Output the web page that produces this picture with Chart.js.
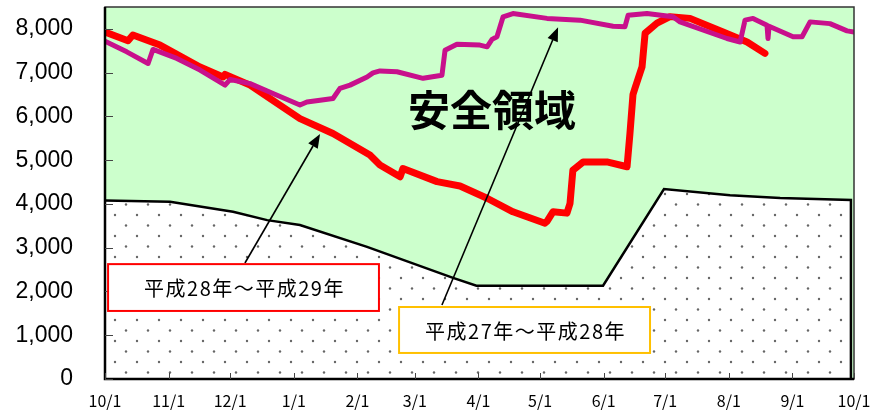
<!DOCTYPE html>
<html>
<head>
<meta charset="utf-8">
<script src="https://cdn.jsdelivr.net/npm/chart.js@4/dist/chart.umd.min.js"></script>
<style>
  html, body { margin: 0; padding: 0; background: #fff; }
</style>
</head>
<body>
<canvas id="chart" width="878" height="410"></canvas>
<script>
// x = days since 10/1
const monthDays = [0, 31, 61, 92, 123, 151, 182, 212, 243, 273, 304, 335, 365];
const monthLabels = ['10/1', '11/1', '12/1', '1/1', '2/1', '3/1', '4/1', '5/1', '6/1', '7/1', '8/1', '9/1', '10/1'];
const yTicks = [0, 1000, 2000, 3000, 4000, 5000, 6000, 7000, 8000];

// 平成28年～平成29年 (red)
const curDays = [0, 11.2, 13.6, 26.8, 46.3, 57.5, 58.5, 70.7, 95, 111.1, 129.1, 134, 143.8, 145.2, 161.8, 173, 186.2, 198.8, 214.4, 215.4, 218.3, 225.1, 226.6, 228, 233, 244.6, 254.4, 255.8, 257.3, 258.3, 261.7, 263.2, 269, 275.3, 285.1, 301.2, 312.9, 321.6];
const curValues = [7930, 7730, 7860, 7630, 7130, 6900, 6960, 6715, 5950, 5610, 5120, 4890, 4620, 4810, 4510, 4410, 4130, 3820, 3560, 3600, 3820, 3790, 4010, 4770, 4960, 4960, 4850, 5600, 6500, 6650, 7130, 7900, 8130, 8280, 8240, 7930, 7700, 7440];

// 平成27年～平成28年 (magenta)
const prevDays = [0, 10.6, 21, 23.4, 35, 46.3, 58.5, 61, 70.7, 81.9, 95, 98.4, 104.8, 111.1, 114.5, 119.4, 127.7, 130.6, 134, 142.3, 155, 164.2, 165.7, 171.5, 182.7, 186.2, 188.6, 191, 194, 198.8, 215.4, 231.5, 247.6, 253.4, 254.9, 264.1, 276.8, 280.2, 303.1, 309.5, 311.9, 315.8, 322.6, 323.1, 323.6, 335.3, 339.7, 343.6, 353.3, 361.6, 365];
const prevValues = [7720, 7475, 7210, 7530, 7325, 7060, 6715, 6845, 6750, 6525, 6260, 6330, 6370, 6410, 6640, 6715, 6900, 6995, 7040, 7020, 6870, 6940, 7510, 7650, 7630, 7590, 7760, 7820, 8275, 8350, 8240, 8200, 8060, 8050, 8310, 8350, 8275, 8160, 7780, 7700, 8200, 8240, 8085, 7780, 8060, 7820, 7820, 8160, 8120, 7955, 7930];

// lower limit curve (dotted region)
const limitDays = [0, 31.7, 62.4, 79, 95, 127.7, 169.6, 181, 242.7, 272.4, 304.6, 329, 363.5, 363.5];
const limitValues = [4080, 4050, 3820, 3630, 3520, 3020, 2310, 2130, 2130, 4340, 4200, 4135, 4090, 0];

const toPoints = (xs, ys) => xs.map((x, i) => ({ x: x, y: ys[i] }));

function dotPattern() {
  const c = document.createElement('canvas');
  c.width = 22; c.height = 21;
  const g = c.getContext('2d');
  g.fillStyle = '#fff';
  g.fillRect(0, 0, 22, 21);
  g.fillStyle = '#666';
  g.beginPath(); g.arc(5, 5, 1.2, 0, Math.PI * 2); g.fill();
  g.beginPath(); g.arc(16, 15.5, 1.2, 0, Math.PI * 2); g.fill();
  return g.createPattern(c, 'repeat');
}

function arrow(ctx, x1, y1, x2, y2) {
  const a = Math.atan2(y2 - y1, x2 - x1);
  const len = 14, half = 5.5;
  const bx = x2 - len * Math.cos(a), by = y2 - len * Math.sin(a);
  ctx.strokeStyle = '#000';
  ctx.lineWidth = 1.6;
  ctx.beginPath(); ctx.moveTo(x1, y1); ctx.lineTo(bx, by); ctx.stroke();
  ctx.fillStyle = '#000';
  ctx.beginPath();
  ctx.moveTo(x2, y2);
  ctx.lineTo(bx + half * Math.sin(a), by - half * Math.cos(a));
  ctx.lineTo(bx - half * Math.sin(a), by + half * Math.cos(a));
  ctx.closePath(); ctx.fill();
}

function labelBox(ctx, xs, ys, d0, d1, v0, v1, color, text) {
  const l = xs.getPixelForValue(d0), r = xs.getPixelForValue(d1);
  const t = ys.getPixelForValue(v0), b = ys.getPixelForValue(v1);
  ctx.fillStyle = '#fff';
  ctx.fillRect(l, t, r - l, b - t);
  ctx.strokeStyle = color;
  ctx.lineWidth = 2;
  ctx.strokeRect(l, t, r - l, b - t);
  ctx.fillStyle = '#000';
  ctx.font = '20px "Noto Sans CJK JP"';
  ctx.letterSpacing = '1.5px';
  ctx.textAlign = 'center';
  ctx.textBaseline = 'middle';
  ctx.fillText(text, (l + r) / 2 + 1, (t + b) / 2 + 1);
  ctx.letterSpacing = '0px';
}

const decorations = {
  id: 'decorations',
  beforeDatasetsDraw(chart) {
    const { ctx, chartArea: a } = chart;
    ctx.save();
    ctx.fillStyle = '#CCFFCC';
    ctx.fillRect(a.left, a.top, a.right - a.left, a.bottom - a.top);
    ctx.restore();
  },
  afterDatasetsDraw(chart) {
    const { ctx, chartArea: a } = chart;
    const xs = chart.scales.x, ys = chart.scales.y;
    ctx.save();

    // frame
    ctx.strokeStyle = '#333';
    ctx.lineWidth = 1.5;
    ctx.strokeRect(a.left, a.top, a.right - a.left, a.bottom - a.top);
    ctx.strokeStyle = '#000';
    ctx.lineWidth = 2.5;
    ctx.beginPath();
    ctx.moveTo(a.left, a.top); ctx.lineTo(a.left, a.bottom); ctx.lineTo(a.right, a.bottom);
    ctx.stroke();

    // inner tick marks
    ctx.strokeStyle = '#444';
    ctx.lineWidth = 1;
    yTicks.forEach(v => {
      const y = Math.round(ys.getPixelForValue(v)) + 0.5;
      ctx.beginPath(); ctx.moveTo(a.left, y); ctx.lineTo(a.left + 8, y); ctx.stroke();
    });
    monthDays.forEach(d => {
      const x = Math.round(xs.getPixelForValue(d)) + 0.5;
      ctx.beginPath(); ctx.moveTo(x, a.bottom); ctx.lineTo(x, a.bottom - 6); ctx.stroke();
    });

    // big label
    ctx.fillStyle = '#000';
    ctx.font = 'bold 42px "Noto Sans CJK JP"';
    ctx.textAlign = 'center';
    ctx.textBaseline = 'middle';
    ctx.fillText('安全領域', xs.getPixelForValue(188.6), ys.getPixelForValue(6140));

    // arrows
    arrow(ctx, xs.getPixelForValue(68.2), ys.getPixelForValue(2650), xs.getPixelForValue(104.8), ys.getPixelForValue(5600));
    arrow(ctx, xs.getPixelForValue(164.2), ys.getPixelForValue(1690), xs.getPixelForValue(220.8), ys.getPixelForValue(8040));

    // legend boxes
    labelBox(ctx, xs, ys, 1.5, 133.5, 2625, 1555, '#FF0000', '平成28年～平成29年');
    labelBox(ctx, xs, ys, 143.3, 265.6, 1645, 595, '#FFC000', '平成27年～平成28年');

    ctx.restore();
  }
};

new Chart(document.getElementById('chart'), {
  type: 'line',
  data: {
    datasets: [
      {
        label: '平成27年～平成28年',
        data: toPoints(prevDays, prevValues),
        borderColor: '#C8108C',
        borderWidth: 5,
        pointRadius: 0,
        fill: false,
        borderJoinStyle: 'round',
        borderCapStyle: 'round'
      },
      {
        label: '平成28年～平成29年',
        data: toPoints(curDays, curValues),
        borderColor: '#FF0000',
        borderWidth: 7,
        pointRadius: 0,
        fill: false,
        borderJoinStyle: 'round',
        borderCapStyle: 'round'
      },
      {
        label: 'limit',
        data: toPoints(limitDays, limitValues),
        borderColor: '#000',
        borderWidth: 2.5,
        pointRadius: 0,
        fill: 'origin',
        backgroundColor: dotPattern()
      }
    ]
  },
  options: {
    responsive: false,
    animation: false,
    devicePixelRatio: 1,
    layout: { autoPadding: false, padding: { top: 7, right: 24, bottom: 0, left: 0 } },
    plugins: { legend: { display: false }, tooltip: { enabled: false } },
    scales: {
      x: {
        type: 'linear',
        min: 0,
        max: 365,
        grid: { display: false, drawTicks: false },
        border: { display: false },
        afterBuildTicks: axis => { axis.ticks = monthDays.map(v => ({ value: v })); },
        afterFit: axis => {
          axis.height = 31;
          axis.paddingLeft = 0;
          axis.paddingRight = 0;
        },
        ticks: {
          autoSkip: false,
          maxRotation: 0,
          padding: 12,
          color: '#000',
          font: { family: '"Noto Sans CJK JP"', size: 16 },
          callback: v => monthLabels[monthDays.indexOf(v)]
        }
      },
      y: {
        min: 0,
        max: 8500,
        grid: { display: true, drawOnChartArea: false, drawTicks: true, tickLength: 32, tickColor: 'rgba(0,0,0,0)' },
        border: { display: false },
        afterBuildTicks: axis => { axis.ticks = yTicks.map(v => ({ value: v })); },
        afterFit: axis => {
          axis.width = 105;
          axis.paddingTop = 0;
          axis.paddingBottom = 0;
        },
        ticks: {
          padding: 0,
          color: '#000',
          font: { family: '"Liberation Sans", Arial', size: 23 },
          callback: v => v.toLocaleString('en-US')
        }
      }
    }
  },
  plugins: [decorations]
});
</script>
</body>
</html>
